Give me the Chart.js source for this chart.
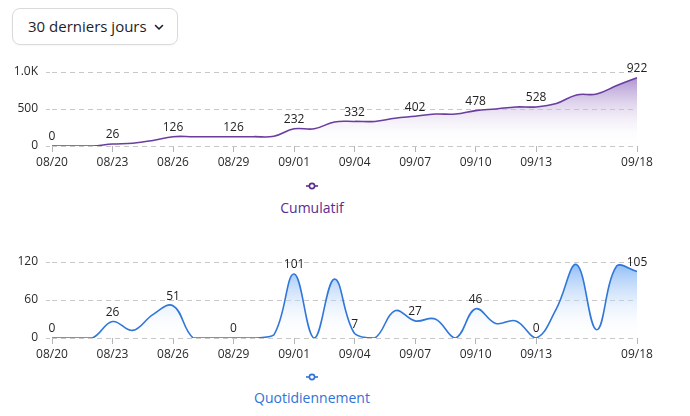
<!DOCTYPE html>
<html><head><meta charset="utf-8">
<script src="https://cdn.jsdelivr.net/npm/chart.js@4.4.0/dist/chart.umd.min.js"></script>
<style>
html,body{margin:0;padding:0;background:#fff}
body{width:690px;height:416px;overflow:hidden;position:relative;font-family:"Open Sans",sans-serif}
.btn{position:absolute;left:12px;top:8px;width:166px;height:37px;box-sizing:border-box;border:1px solid #dadada;border-radius:8px;
 font-size:15px;color:#1d1d2c;line-height:35px;padding-left:15px;box-shadow:0 1px 2px rgba(0,0,0,0.04)}
.btn svg{position:absolute;left:141px;top:15px}
.wrap{position:absolute;left:0;width:690px}
.leg{position:absolute;left:0;width:624px;text-align:center;font-size:14px}
.leg svg{display:block;margin:0 auto}
</style></head>
<body>
<div class="btn">30 derniers jours<svg width="10" height="7" viewBox="0 0 10 7"><path d="M1.5 1.5 L5 5 L8.5 1.5" fill="none" stroke="#1d1d2c" stroke-width="1.6" stroke-linecap="round" stroke-linejoin="round"/></svg></div>
<div class="wrap" style="top:55px;height:115px"><canvas id="c1" width="690" height="115"></canvas></div>
<div class="leg" style="top:181px;color:#5b2d90"><svg width="14" height="10" viewBox="0 0 14 10"><line x1="1" y1="5" x2="13" y2="5" stroke="#5b2d90" stroke-width="1.6"/><circle cx="7" cy="5" r="2.6" fill="#fff" stroke="#5b2d90" stroke-width="1.6"/></svg><div style="margin-top:7px">Cumulatif</div></div>
<div class="wrap" style="top:245px;height:117px"><canvas id="c2" width="690" height="117"></canvas></div>
<div class="leg" style="top:372px;color:#2f72d8"><svg width="14" height="10" viewBox="0 0 14 10"><line x1="1" y1="5" x2="13" y2="5" stroke="#2f72d8" stroke-width="1.6"/><circle cx="7" cy="5" r="2.6" fill="#fff" stroke="#2f72d8" stroke-width="1.6"/></svg><div style="margin-top:6px">Quotidiennement</div></div>
<script>
const dates = ["08/20","08/21","08/22","08/23","08/24","08/25","08/26","08/27","08/28","08/29","08/30","08/31",
 "09/01","09/02","09/03","09/04","09/05","09/06","09/07","09/08","09/09","09/10","09/11","09/12","09/13","09/14",
 "09/15","09/16","09/17","09/18"];
const cumulatif = [0,0,0,26,38,75,126,126,126,126,126,131,232,232,325,332,332,375,402,432,432,478,501,528,528,574,690,703,817,922];
const quotidien = [0,0,0,26,12,37,51,0,0,0,0,5,101,0,93,7,0,43,27,30,0,46,23,27,0,46,116,13,114,105];
const shownTicks = [0,3,6,9,12,15,18,21,24,29];
const cumTicks = [0,500,1000];
const dayTicks = [0,60,120];

const FONT = '"Open Sans", sans-serif';

const labelPlugin = {
  id:'pointLabels',
  afterDatasetsDraw(chart){
    const ctx = chart.ctx;
    const meta = chart.getDatasetMeta(0);
    const data = chart.data.datasets[0].data;
    ctx.save();
    ctx.font = '12px ' + FONT;
    ctx.fillStyle = '#222';
    ctx.textAlign = 'center';
    ctx.textBaseline = 'bottom';
    shownTicks.forEach(i=>{
      const el = meta.data[i];
      ctx.fillText(String(data[i]), el.x, el.y - 3);
    });
    ctx.restore();
  }
};

function makeChart(id, data, line, topCol, yTicks, fmt){
  return new Chart(document.getElementById(id), {
    type:'line',
    data:{labels:dates, datasets:[{
      data:data,
      borderColor:line,
      borderWidth:1.6,
      pointRadius:0,
      tension:0.4,
      fill:true,
      backgroundColor:(c)=>{
        const {ctx, chartArea} = c.chart;
        if(!chartArea) return topCol;
        const g = ctx.createLinearGradient(0, chartArea.top, 0, chartArea.bottom);
        g.addColorStop(0, topCol);
        g.addColorStop(1, 'rgba(255,255,255,0)');
        return g;
      }
    }]},
    options:{
      responsive:false,
      animation:false,
      layout:{padding:{top:17,right:53,left:0,bottom:0}},
      plugins:{legend:{display:false},tooltip:{enabled:false}},
      scales:{
        x:{
          offset:false,
          afterBuildTicks(s){ s.ticks = s.ticks.filter(t=>shownTicks.includes(t.value)); },
          afterFit(s){ s.height = 24; },
          grid:{display:true,drawOnChartArea:false,drawTicks:true,tickLength:6,color:'#b5b5b5'},
          border:{display:false},
          ticks:{autoSkip:false,maxRotation:0,padding:3,color:'#2a2a2a',font:{family:FONT,size:12}}
        },
        y:{
          min:yTicks[0], max:yTicks[yTicks.length-1],
          afterBuildTicks(s){ s.ticks = yTicks.map(v=>({value:v})); },
          afterFit(s){ s.width = 52; },
          grid:{color:'#c8c8c8',tickLength:6,tickBorderDash:[4,3]},
          border:{display:false,dash:[5,4]},
          ticks:{padding:8,color:'#2a2a2a',font:{family:FONT,size:12},callback:fmt}
        }
      }
    },
    plugins:[labelPlugin]
  });
}

makeChart('c1', cumulatif, '#6a3d9f', 'rgba(150,115,195,0.9)', cumTicks,
  v => v >= 1000 ? (v/1000).toFixed(1) + 'K' : String(v));
makeChart('c2', quotidien, '#3077d8', 'rgba(125,178,245,0.9)', dayTicks, v => String(v));
</script>
</body></html>
